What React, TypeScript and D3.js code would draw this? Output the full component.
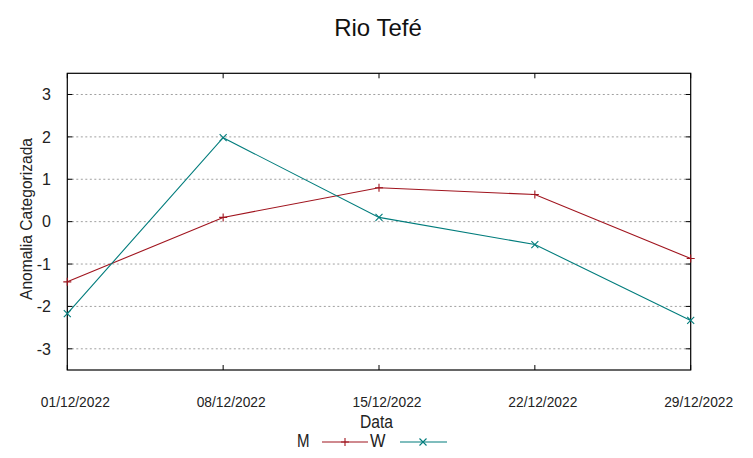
import React from "react";
import * as d3 from "d3";

const dates = ["2022-12-01", "2022-12-08", "2022-12-15", "2022-12-22", "2022-12-29"];
const tickLabels = ["01/12/2022", "08/12/2022", "15/12/2022", "22/12/2022", "29/12/2022"];
const seriesM = [-1.42, 0.1, 0.8, 0.64, -0.87];
const seriesW = [-2.17, 1.98, 0.1, -0.54, -2.33];
const yTicks = [-3, -2, -1, 0, 1, 2, 3];

const W = 753;
const H = 458;
const M_COLOR = "#a0141e";
const W_COLOR = "#007c7c";
const FONT = "'Liberation Sans', Arial, sans-serif";

export default function App() {
  const parse = d3.timeParse("%Y-%m-%d");
  const xDates = dates.map((d) => parse(d) as Date);
  const x = d3.scaleTime().domain([xDates[0], xDates[xDates.length - 1]]).range([67.3, 690.7]);
  const y = d3.scaleLinear().domain([-3.5, 3.5]).range([370, 73.3]);
  const left = 67.3, right = 690.7, top = 73.3, bottom = 370;

  const line = d3
    .line<number>()
    .x((_, i) => x(xDates[i]))
    .y((v) => y(v));

  const plus = (cx: number, cy: number, s = 4) => `M${cx - s},${cy}H${cx + s}M${cx},${cy - s}V${cy + s}`;
  const cross = (cx: number, cy: number, s = 3.5) =>
    `M${cx - s},${cy - s}L${cx + s},${cy + s}M${cx - s},${cy + s}L${cx + s},${cy - s}`;

  return (
    <svg
      width={W}
      height={H}
      style={{ position: "absolute", left: 0, top: 0, background: "#fff" }}
      fontFamily={FONT}
    >
      <rect x={0} y={0} width={W} height={H} fill="#fff" />
      {yTicks.map((t) => (
        <line
          key={"g" + t}
          x1={left}
          x2={right}
          y1={y(t)}
          y2={y(t)}
          stroke="#a0a0a0"
          strokeWidth={1}
          strokeDasharray="2,2.5"
        />
      ))}
      {yTicks.map((t) => (
        <g key={"yt" + t}>
          <line x1={left} x2={left + 5} y1={y(t)} y2={y(t)} stroke="#000" />
          <line x1={right} x2={right - 5} y1={y(t)} y2={y(t)} stroke="#000" />
          <text x={51} y={y(t) + 5.8} textAnchor="end" fontSize={16} fill="#222">
            {t}
          </text>
        </g>
      ))}
      {xDates.map((d, i) => (
        <g key={"xt" + i}>
          <line x1={x(d)} x2={x(d)} y1={bottom} y2={bottom - 5} stroke="#000" />
          <line x1={x(d)} x2={x(d)} y1={top} y2={top + 5} stroke="#000" />
          <text
            x={x(d) + 8}
            y={406.5}
            textAnchor="middle"
            fontSize={15}
            fill="#222"
            textLength={69}
            lengthAdjust="spacingAndGlyphs"
          >
            {tickLabels[i]}
          </text>
        </g>
      ))}
      <rect x={left} y={top} width={right - left} height={bottom - top} fill="none" stroke="#000" strokeWidth={1.2} />
      <path d={line(seriesM) || ""} fill="none" stroke={M_COLOR} strokeWidth={1.1} />
      {seriesM.map((v, i) => (
        <path key={"pm" + i} d={plus(x(xDates[i]), y(v))} stroke={M_COLOR} strokeWidth={1.1} />
      ))}
      <path d={line(seriesW) || ""} fill="none" stroke={W_COLOR} strokeWidth={1.1} />
      {seriesW.map((v, i) => (
        <path key={"pw" + i} d={cross(x(xDates[i]), y(v))} stroke={W_COLOR} strokeWidth={1.1} />
      ))}
      <text x={378} y={36} textAnchor="middle" fontSize={24} fill="#111">
        Rio Tefé
      </text>
      <text
        transform="translate(31.5,219) rotate(-90)"
        textAnchor="middle"
        fontSize={16.5}
        fill="#222"
        textLength={162}
        lengthAdjust="spacingAndGlyphs"
      >
        Anomalia Categorizada
      </text>
      <text x={376.5} y={428} textAnchor="middle" fontSize={17.5} fill="#222" textLength={33} lengthAdjust="spacingAndGlyphs">
        Data
      </text>
      <text x={297} y={447} fontSize={17.5} fill="#222" textLength={12.5} lengthAdjust="spacingAndGlyphs">
        M
      </text>
      <line x1={322} x2={368} y1={442} y2={442} stroke={M_COLOR} strokeWidth={1.1} />
      <path d={plus(345, 442)} stroke={M_COLOR} strokeWidth={1.1} />
      <text x={370} y={447} fontSize={17.5} fill="#222" textLength={15.5} lengthAdjust="spacingAndGlyphs">
        W
      </text>
      <line x1={400} x2={447} y1={442} y2={442} stroke={W_COLOR} strokeWidth={1.1} />
      <path d={cross(423, 442)} stroke={W_COLOR} strokeWidth={1.1} />
    </svg>
  );
}
